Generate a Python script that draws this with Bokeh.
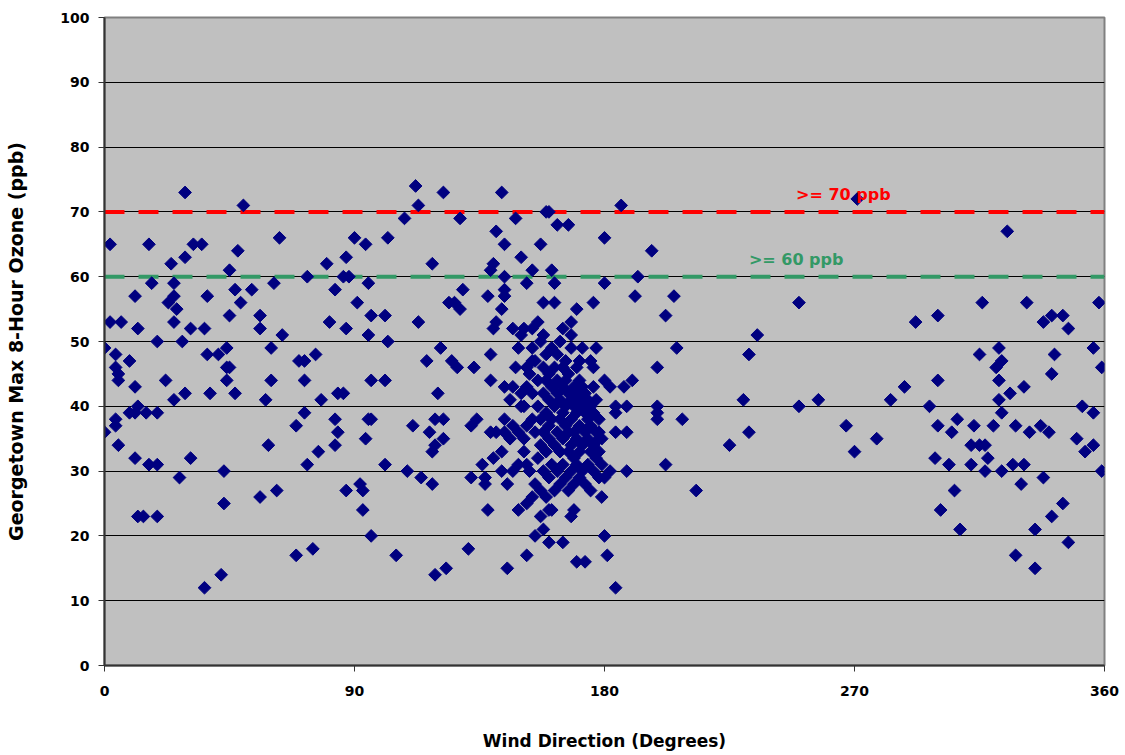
from bokeh.plotting import figure
from bokeh.models import FixedTicker, Range1d, Label, ColumnDataSource
from bokeh.embed import file_html
from bokeh.resources import INLINE

# Wind direction (degrees) and Georgetown max 8-hour ozone (ppb)
wind_dir = [
    29, 50, 2, 16, 32, 35, 29, 24, 48, 45, 17, 25, 11, 25, 23, 26, 37, 47, 53, 49,
    2, 6, 12, 25, 31, 36, 45, 56, 56, 19, 28, 0, 4, 9, 4, 5, 5, 11, 22, 37,
    41, 44, 44, 45, 44, 47, 38, 29, 25, 4, 9, 11, 12, 15, 19,
    0, 4, 5, 11, 16, 19, 31, 27, 43, 43, 12, 14, 19, 36, 42, 56,
    112, 113, 108, 63, 90, 94, 102, 87, 80, 73, 86, 88, 61, 95, 83, 91, 64, 81, 87, 96,
    101, 113, 95, 102, 60, 70, 72, 76, 60, 72, 96, 101, 58, 78, 84, 86, 72,
    69, 83, 84, 83, 95, 96, 94, 111, 59, 77, 73, 101, 109, 114, 62, 87, 92, 93, 93,
    96, 69, 75, 105,
    122, 143, 128, 148, 159, 160, 163, 141, 144, 157, 150, 139, 140, 154, 161, 144, 152, 162,
    129, 144, 144, 138, 124, 126, 128, 143, 158, 162, 141, 140, 147, 150, 151, 154, 156, 158,
    165, 121, 116, 125, 127, 133, 139, 149, 154, 148, 152, 154, 139, 144, 147, 120, 146, 150,
    151, 118,
    119, 122, 117, 119, 118, 122, 132, 134, 139, 141, 144, 147, 149, 144, 146, 143, 140, 136,
    132, 137, 137, 143, 145, 147, 149, 152, 138, 149, 152, 154, 157, 160, 161, 155, 158, 160,
    165, 152, 145, 131, 119, 123, 118,
    186, 167, 180, 197, 192, 180, 191, 205, 176, 170, 202, 168, 168, 206, 199, 172, 177, 171,
    175, 176, 180, 182, 187, 190, 176, 177, 184, 188, 199, 199, 199, 208, 184, 184, 188, 178,
    178, 202, 182, 180, 188, 213, 179, 169, 168, 180, 181, 170, 173, 184,
    271, 250, 235, 232, 230, 250, 257, 283, 288, 267, 232, 225, 270, 278,
    325, 316, 332, 358, 292, 300, 338, 341, 345, 347, 315, 322, 323, 321, 322, 342, 341, 356,
    359, 300, 331, 326, 322, 297, 352, 356, 323, 307, 300, 305, 313, 320, 328, 333, 337, 340,
    350, 356, 353, 359, 312, 315, 317, 318, 299, 304, 312, 317, 323, 327, 331, 330, 338, 306,
    301, 308, 335, 341, 345, 347, 328, 335,
    150, 151, 151, 152, 152, 153, 153, 154, 154, 155, 155, 155, 156, 156, 156, 157, 157, 157,
    157, 158, 158, 158, 158, 159, 159, 159, 159, 159, 160, 160, 160, 160, 160, 161, 161, 161,
    161, 162, 162, 162, 162, 163, 163, 163, 163, 163, 164, 164, 164, 164, 164, 165, 165, 165,
    165, 165, 166, 166, 166, 166, 166, 167, 167, 167, 167, 167, 168, 168, 168, 168, 168, 169,
    169, 169, 169, 169, 170, 170, 170, 170, 170, 171, 171, 171, 171, 171, 172, 172, 172, 172,
    173, 173, 173, 173, 174, 174, 174, 174, 175, 175, 175, 175, 176, 176, 176, 177, 177, 178,
    178, 178, 179, 179,
]
ozone = [
    73, 71, 65, 65, 65, 65, 63, 62, 64, 61, 59, 59, 57, 57, 56, 55, 57, 58, 58, 56,
    53, 53, 52, 53, 52, 52, 54, 54, 52, 50, 50, 49, 48, 47, 46, 45, 44, 43, 44, 48,
    48, 49, 46, 46, 44, 42, 42, 42, 41, 38, 39, 39, 40, 39, 39,
    36, 37, 34, 32, 31, 31, 32, 29, 30, 25, 23, 23, 23, 12, 14, 26,
    74, 71, 69, 66, 66, 65, 66, 63, 62, 60, 60, 60, 59, 59, 58, 56, 51, 53, 52, 54,
    54, 53, 51, 50, 49, 47, 47, 48, 44, 44, 44, 44, 41, 41, 42, 42, 39,
    37, 38, 36, 34, 38, 38, 35, 37, 34, 33, 31, 31, 30, 29, 27, 27, 28, 27, 24,
    20, 17, 18, 17,
    73, 73, 69, 69, 70, 70, 68, 67, 65, 65, 63, 61, 62, 61, 61, 60, 59, 59,
    58, 58, 57, 57, 56, 56, 55, 55, 56, 56, 53, 52, 52, 51, 52, 52, 53, 51,
    52, 49, 47, 47, 46, 46, 48, 49, 49, 46, 46, 47, 44, 43, 43, 42, 41, 42,
    40, 62,
    38, 38, 36, 34, 33, 35, 37, 38, 36, 36, 38, 37, 36, 36, 35, 33, 32, 31,
    29, 28, 29, 30, 28, 30, 31, 31, 24, 24, 25, 26, 23, 24, 24, 20, 21, 19,
    19, 17, 15, 18, 14, 15, 28,
    71, 68, 66, 64, 60, 59, 57, 57, 56, 55, 54, 53, 51, 49, 46, 49, 49, 47,
    47, 46, 44, 43, 43, 44, 43, 41, 40, 40, 40, 39, 38, 38, 39, 36, 36, 36,
    35, 31, 30, 29, 30, 27, 26, 24, 23, 20, 17, 16, 16, 12,
    72, 56, 51, 48, 41, 40, 41, 41, 43, 37, 36, 34, 33, 35,
    67, 56, 56, 56, 53, 54, 53, 54, 54, 52, 48, 49, 47, 46, 44, 48, 45, 49,
    46, 44, 43, 42, 41, 40, 40, 39, 39, 38, 37, 36, 37, 37, 37, 36, 37, 36,
    35, 34, 33, 30, 34, 34, 34, 32, 32, 31, 31, 30, 30, 31, 31, 28, 29, 27,
    24, 21, 21, 23, 25, 19, 17, 15,
    40, 35, 33, 37, 43, 30, 45, 38, 42, 28, 36, 47, 32, 40, 44, 27, 34, 38,
    50, 30, 36, 42, 46, 26, 33, 39, 44, 48, 29, 35, 37, 41, 45, 31, 38, 43,
    49, 27, 34, 40, 46, 30, 36, 42, 44, 48, 28, 33, 38, 41, 50, 31, 35, 39,
    43, 46, 29, 37, 40, 44, 47, 27, 33, 36, 42, 45, 30, 34, 38, 41, 49, 28,
    32, 36, 40, 43, 31, 35, 39, 42, 46, 29, 33, 37, 41, 44, 30, 34, 40, 43,
    28, 36, 39, 42, 31, 35, 38, 41, 27, 33, 37, 40, 30, 34, 39, 32, 36, 29,
    33, 38, 31, 35,
]

x_ticks = [0, 90, 180, 270, 360]
y_ticks = [0, 10, 20, 30, 40, 50, 60, 70, 80, 90, 100]
threshold_red = 70
threshold_green = 60
label_red = ">= 70 ppb"
label_green = ">= 60 ppb"

src = ColumnDataSource(data=dict(x=wind_dir, y=ozone))

p = figure(width=1125, height=755, output_backend="svg", toolbar_location=None,
           x_range=Range1d(0, 360), y_range=Range1d(0, 100),
           min_border_left=104, min_border_right=21, min_border_top=17, min_border_bottom=90)

p.background_fill_color = "#C0C0C0"
p.border_fill_color = "white"
p.outline_line_color = "#808080"
p.outline_line_width = 2

p.xgrid.grid_line_color = None
p.ygrid.grid_line_color = "black"
p.ygrid.grid_line_width = 1
p.ygrid.ticker = FixedTicker(ticks=y_ticks)

for ax in (p.xaxis[0], p.yaxis[0]):
    ax.axis_line_color = "#333333"
    ax.axis_line_width = 2
    ax.major_tick_line_color = "#333333"
    ax.major_tick_out = 6
    ax.major_tick_in = 0
    ax.minor_tick_line_color = None
    ax.major_label_text_font = "DejaVu Sans"
    ax.major_label_text_font_style = "bold"
    ax.major_label_text_font_size = "14px"
    ax.major_label_text_color = "black"
    ax.axis_label_text_font = "DejaVu Sans"
    ax.axis_label_text_font_style = "bold"
    ax.axis_label_text_color = "black"

p.xaxis.ticker = FixedTicker(ticks=x_ticks)
p.yaxis.ticker = FixedTicker(ticks=y_ticks)
p.xaxis.major_label_standoff = 14
p.yaxis.major_label_standoff = 9
p.xaxis.axis_label = "Wind Direction (Degrees)"
p.yaxis.axis_label = "Georgetown Max 8-Hour Ozone (ppb)"
p.xaxis.axis_label_text_font_size = "17px"
p.yaxis.axis_label_text_font_size = "19px"
p.xaxis.axis_label_standoff = 32
p.yaxis.axis_label_standoff = 30

p.line([0, 360], [threshold_red, threshold_red], line_color="#FF0000", line_width=4, line_dash="20 14")
p.line([0, 360], [threshold_green, threshold_green], line_color="#339966", line_width=4, line_dash="20 14")

p.scatter("x", "y", source=src, marker="square", size=9, angle=0.785398,
          fill_color="#000080", line_color="#000080", line_width=1)

p.add_layout(Label(x=266, y=threshold_red + 1.2, text=label_red, text_align="center",
                   text_color="#FF0000", text_font="DejaVu Sans", text_font_style="bold",
                   text_font_size="16px"))
p.add_layout(Label(x=249, y=threshold_green + 1.2, text=label_green, text_align="center",
                   text_color="#339966", text_font="DejaVu Sans", text_font_style="bold",
                   text_font_size="16px"))

open("out.html", "w").write(file_html(p, INLINE))
